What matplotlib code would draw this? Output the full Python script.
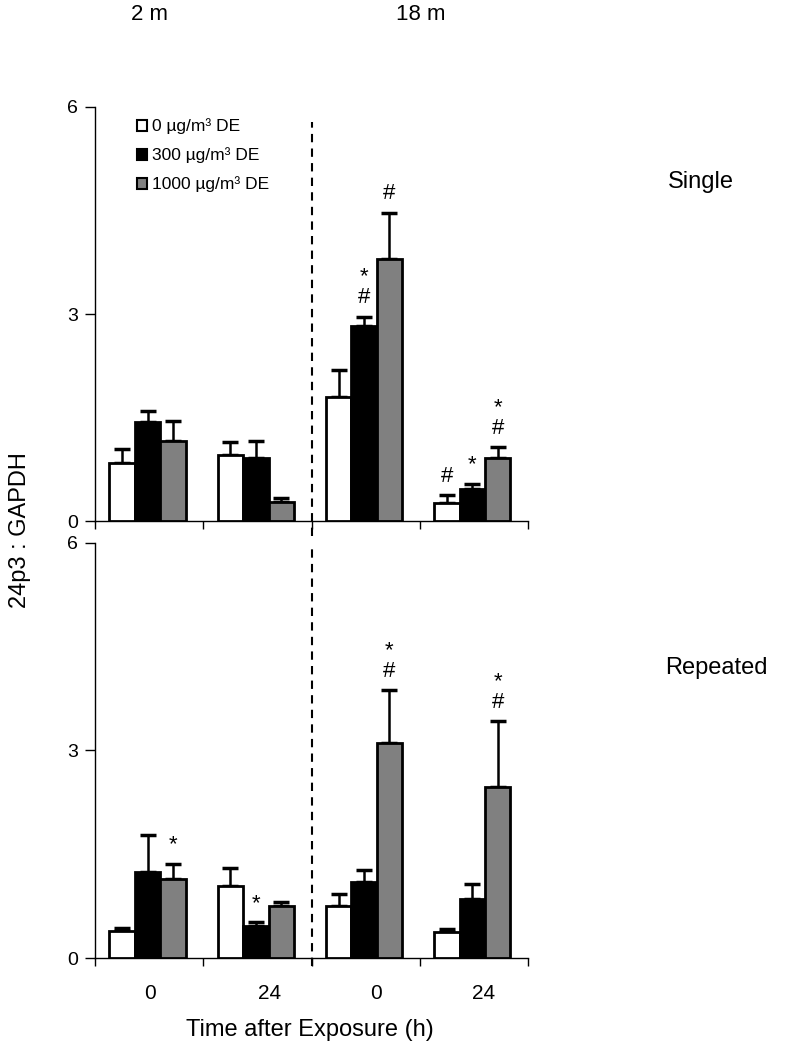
import matplotlib
matplotlib.use("Agg")
import matplotlib.pyplot as plt
from matplotlib.patches import Patch
import numpy as np

plt.rcParams['font.family'] = ['Liberation Sans', 'DejaVu Sans']

# ---- data ----
series = ["0 µg/m³ DE", "300 µg/m³ DE", "1000 µg/m³ DE"]
colors = ["white", "black", "#808080"]
group_labels = ["0", "24", "0", "24"]
ages = ["2 m", "18 m"]
panels = ["Single", "Repeated"]

single_mean = [
    [0.84, 0.96, 1.80, 0.26],   # 0 ug/m3
    [1.44, 0.91, 2.82, 0.47],   # 300
    [1.16, 0.28, 3.79, 0.91],   # 1000
]
single_err = [
    [0.20, 0.19, 0.39, 0.12],
    [0.15, 0.25, 0.14, 0.07],
    [0.29, 0.06, 0.68, 0.16],
]
repeated_mean = [
    [0.39, 1.04, 0.75, 0.37],
    [1.24, 0.47, 1.10, 0.85],
    [1.14, 0.75, 3.11, 2.47],
]
repeated_err = [
    [0.05, 0.26, 0.17, 0.05],
    [0.54, 0.05, 0.17, 0.22],
    [0.22, 0.06, 0.76, 0.95],
]
# significance marks: (group, series, text)
single_marks = [(2, 1, "*\n#"), (2, 2, "#"), (3, 0, "#"), (3, 1, "*"), (3, 2, "*\n#")]
repeated_marks = [(0, 2, "*"), (1, 1, "*"), (2, 2, "*\n#"), (3, 2, "*\n#")]

fig = plt.figure(figsize=(7.88, 10.5), dpi=100)
ax_top = fig.add_axes([0.1206, 0.5038, 0.5495, 0.3943])
ax_bot = fig.add_axes([0.1206, 0.0876, 0.5495, 0.3953])

width = 0.235
offsets = [-width, 0, width]
groups = np.arange(4)
centers = groups + 0.485


def draw(ax, means, errs, marks):
    for i in range(3):
        x = centers + offsets[i]
        m = np.array(means[i])
        e = np.array(errs[i])
        ax.bar(x, m, width=width, color=colors[i], edgecolor="black",
               linewidth=2.0, zorder=3)
        ax.errorbar(x, m, yerr=[np.zeros_like(e), e], fmt="none",
                    ecolor="black", elinewidth=1.8, capsize=6, capthick=2.5,
                    zorder=2)
    for g, s, txt in marks:
        top = means[s][g] + errs[s][g]
        ax.text(centers[g] + offsets[s], top + 0.12, txt, ha="center",
                va="bottom", fontsize=16, linespacing=1.0)
    ax.set_xlim(0, 4)
    ax.set_ylim(0, 6)
    ax.set_yticks([0, 3, 6])
    ax.set_xticks([0, 1, 2, 3, 4])
    ax.set_xticklabels([])
    ax.tick_params(axis="y", direction="out", length=7, width=1,
                   labelsize=14, pad=5)
    ax.tick_params(axis="x", direction="out", length=6, width=1)
    for sp in ["top", "right"]:
        ax.spines[sp].set_visible(False)
    ax.spines["left"].set_linewidth(1.0)
    ax.spines["bottom"].set_linewidth(1.0)


draw(ax_top, single_mean, single_err, single_marks)
draw(ax_bot, repeated_mean, repeated_err, repeated_marks)

# dashed separators between age groups
ax_top.plot([2, 2], [-0.036, 0.964], transform=ax_top.get_xaxis_transform(),
            color="black", lw=1.5, ls=(0, (4, 3)), clip_on=False, zorder=1)
ax_bot.plot([2, 2], [-0.02, 0.995], transform=ax_bot.get_xaxis_transform(),
            color="black", lw=1.5, ls=(0, (4, 3)), clip_on=False, zorder=1)

# x group labels
label_x = [0.51, 1.61, 2.60, 3.59]
for xl, lab in zip(label_x, group_labels):
    ax_bot.text(xl, -0.085, lab, transform=ax_bot.get_xaxis_transform(),
                ha="center", va="center", fontsize=15)

# legend
handles = [Patch(facecolor=c, edgecolor="black", linewidth=1.5) for c in colors]
ax_top.legend(handles, series, loc="upper left", bbox_to_anchor=(0.06, 1.01),
              frameon=False, fontsize=12.5, handlelength=0.6, handleheight=0.6,
              labelspacing=0.75, handletextpad=0.3)

# texts
fig.text(0.19, 0.986, ages[0], ha="center", va="center", fontsize=16)
fig.text(0.534, 0.986, ages[1], ha="center", va="center", fontsize=16)
fig.text(0.848, 0.827, panels[0], ha="left", va="center", fontsize=17)
fig.text(0.844, 0.364, panels[1], ha="left", va="center", fontsize=17)
fig.text(0.025, 0.495, "24p3 : GAPDH", rotation=90, ha="center",
         va="center", fontsize=17)
fig.text(0.393, 0.019, "Time after Exposure (h)", ha="center", va="center",
         fontsize=17)

fig.savefig("out.png", dpi=100)
